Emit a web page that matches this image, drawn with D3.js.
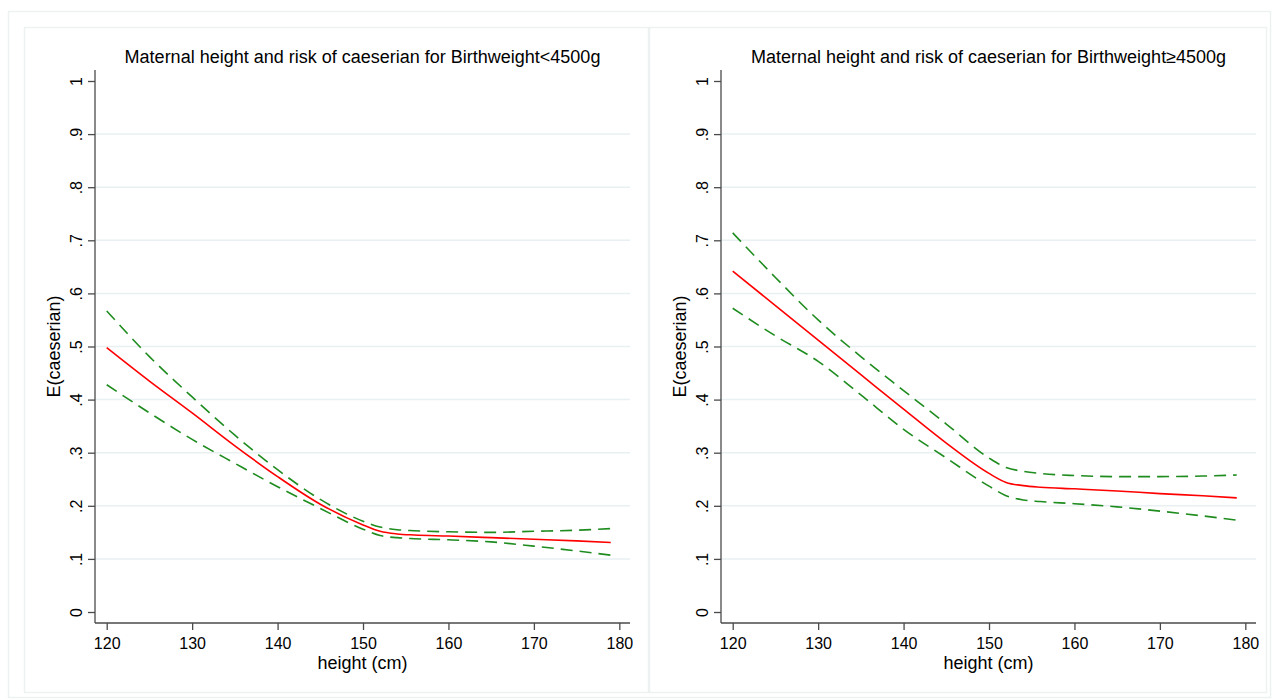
<!DOCTYPE html>
<html>
<head>
<meta charset="utf-8">
<script src="https://cdn.jsdelivr.net/npm/d3@7"></script>
<style>
  html, body { margin: 0; padding: 0; background: #fff; }
  svg { display: block; font-family: Arial, "Liberation Sans", sans-serif; }
</style>
</head>
<body>
<svg id="chart" width="1276" height="699"></svg>
<script>
// ---- data ----
const heights = [120, 125, 130, 135, 140, 145, 150, 152, 154, 156, 160, 165, 170, 175, 179];

const titles = [
  "Maternal height and risk of caeserian for Birthweight<4500g",
  "Maternal height and risk of caeserian for Birthweight\u22654500g"
];

// Panel 1: Birthweight < 4500g
const estLow  = [0.498, 0.435, 0.375, 0.313, 0.255, 0.203, 0.164, 0.152, 0.147, 0.145, 0.143, 0.140, 0.137, 0.134, 0.131];
const upLow   = [0.567, 0.481, 0.405, 0.333, 0.268, 0.212, 0.171, 0.160, 0.155, 0.153, 0.151, 0.150, 0.152, 0.154, 0.157];
const loLow   = [0.428, 0.375, 0.325, 0.280, 0.236, 0.195, 0.156, 0.144, 0.140, 0.138, 0.136, 0.132, 0.124, 0.115, 0.107];

// Panel 2: Birthweight >= 4500g
const estHigh = [0.642, 0.577, 0.512, 0.447, 0.382, 0.318, 0.261, 0.244, 0.238, 0.235, 0.232, 0.228, 0.223, 0.219, 0.215];
const upHigh  = [0.714, 0.630, 0.550, 0.481, 0.417, 0.354, 0.290, 0.272, 0.265, 0.261, 0.257, 0.255, 0.255, 0.256, 0.258];
const loHigh  = [0.572, 0.520, 0.472, 0.409, 0.344, 0.290, 0.237, 0.219, 0.211, 0.208, 0.204, 0.198, 0.190, 0.181, 0.173];

const xTicks = [120, 130, 140, 150, 160, 170, 180];
const yTicks = [0, 0.1, 0.2, 0.3, 0.4, 0.5, 0.6, 0.7, 0.8, 0.9, 1];
const yTickLabels = ["0", ".1", ".2", ".3", ".4", ".5", ".6", ".7", ".8", ".9", "1"];
const xTitle = "height (cm)";
const yTitle = "E(caeserian)";

// ---- drawing ----
const svg = d3.select("#chart");
const frameColor = "#edf1f1";
const gridColor = "#e9f0f2";
const axisColor = "#4a4a4a";

svg.append("rect").attr("x", 8.5).attr("y", 11.5).attr("width", 1262).attr("height", 686)
  .attr("fill", "none").attr("stroke", frameColor).attr("stroke-width", 1.5);

const panels = [
  { left: 24.5, frameW: 624, axisX: 95, est: estLow, up: upLow, lo: loLow, title: titles[0] },
  { left: 649.5, frameW: 617, axisX: 721, est: estHigh, up: upHigh, lo: loHigh, title: titles[1] }
];

panels.forEach(p => {
  svg.append("rect").attr("x", p.left).attr("y", 27.5).attr("width", p.frameW).attr("height", 665)
    .attr("fill", "#fff").attr("stroke", frameColor).attr("stroke-width", 1.5);

  const x0 = p.axisX, x1 = p.axisX + 535;
  const yTop = 70, yBot = 623;
  const x = d3.scaleLinear().domain([118.63, 181.25]).range([x0, x1]);
  const y = d3.scaleLinear().domain([-0.0207, 1.0207]).range([yBot, yTop]);

  const g = svg.append("g");

  // gridlines
  g.selectAll("line.grid").data(yTicks.filter(v => v > 0 && v < 1)).enter()
    .append("line").attr("class", "grid")
    .attr("x1", x0).attr("x2", x1)
    .attr("y1", d => y(d)).attr("y2", d => y(d))
    .attr("stroke", gridColor).attr("stroke-width", 1.5);

  // y axis
  const yAxis = d3.axisLeft(y).tickValues(yTicks).tickSize(7).tickPadding(6)
    .tickFormat((d, i) => yTickLabels[i]);
  const ya = g.append("g").attr("transform", `translate(${x0},0)`).call(yAxis);
  ya.select(".domain").remove();
  ya.selectAll(".tick line").attr("stroke", axisColor).attr("stroke-width", 1.3);
  ya.selectAll(".tick text")
    .attr("font-size", 16).attr("fill", "#000")
    .attr("x", null).attr("dy", null)
    .attr("transform", "translate(-13,0) rotate(-90)")
    .attr("text-anchor", "middle");

  // x axis
  const xAxis = d3.axisBottom(x).tickValues(xTicks).tickSize(7).tickPadding(8).tickFormat(d3.format("d"));
  const xa = g.append("g").attr("transform", `translate(0,${yBot})`).call(xAxis);
  xa.select(".domain").remove();
  xa.selectAll(".tick line").attr("stroke", axisColor).attr("stroke-width", 1.3);
  xa.selectAll(".tick text").attr("font-size", 16).attr("fill", "#000");

  // axis lines
  g.append("line").attr("x1", x0).attr("x2", x0).attr("y1", yTop).attr("y2", yBot)
    .attr("stroke", axisColor).attr("stroke-width", 1.3);
  g.append("line").attr("x1", x0).attr("x2", x1).attr("y1", yBot).attr("y2", yBot)
    .attr("stroke", axisColor).attr("stroke-width", 1.3);

  // lines
  const line = d3.line().x((d, i) => x(heights[i])).y(d => y(d)).curve(d3.curveMonotoneX);
  [p.up, p.lo].forEach(s => {
    g.append("path").attr("d", line(s)).attr("fill", "none")
      .attr("stroke", "#1f8c1f").attr("stroke-width", 1.6)
      .attr("stroke-dasharray", "12,7");
  });
  g.append("path").attr("d", line(p.est)).attr("fill", "none")
    .attr("stroke", "#ff0000").attr("stroke-width", 1.6);

  // titles
  g.append("text").attr("x", (x0 + x1) / 2).attr("y", 63).attr("text-anchor", "middle")
    .attr("font-size", 18).attr("fill", "#000").text(p.title);
  g.append("text").attr("x", (x0 + x1) / 2).attr("y", 669).attr("text-anchor", "middle")
    .attr("font-size", 18).attr("fill", "#000").text(xTitle);
  g.append("text").attr("transform", `translate(${x0 - 35},${(yTop + yBot) / 2}) rotate(-90)`)
    .attr("text-anchor", "middle").attr("font-size", 18).attr("fill", "#000").text(yTitle);
});
</script>
</body>
</html>
